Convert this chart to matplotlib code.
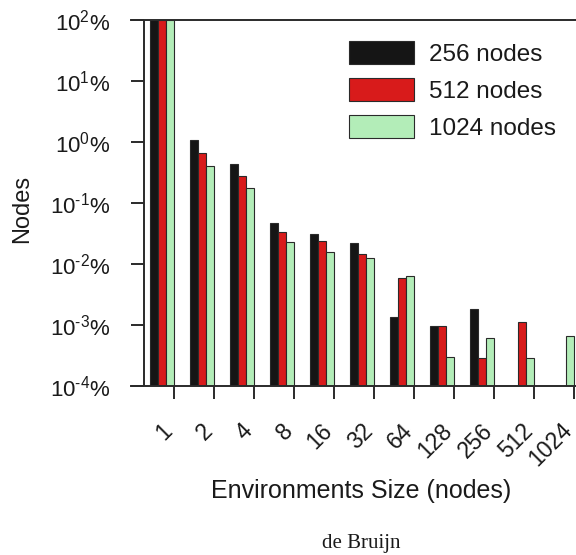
import numpy as np
import matplotlib
matplotlib.use("Agg")
import matplotlib.pyplot as plt
from matplotlib.transforms import ScaledTranslation

plt.rcParams['font.family'] = ['Liberation Sans', 'DejaVu Sans']
plt.rcParams['mathtext.fontset'] = 'custom'
plt.rcParams['mathtext.rm'] = 'Liberation Sans'
plt.rcParams['mathtext.it'] = 'Liberation Sans:italic'
plt.rcParams['mathtext.bf'] = 'Liberation Sans:bold'

categories = ["1", "2", "4", "8", "16", "32", "64", "128", "256", "512", "1024"]
series_names = ["256 nodes", "512 nodes", "1024 nodes"]
nodes_256 = [100, 1.08, 0.435, 0.0464, 0.0306, 0.0218, 0.00137, 0.000975, 0.00183, np.nan, np.nan]
nodes_512 = [100, 0.65, 0.277, 0.033, 0.0241, 0.0146, 0.00589, 0.000975, 0.000288, 0.00111, np.nan]
nodes_1024 = [100, 0.40, 0.174, 0.0232, 0.0155, 0.0127, 0.00628, 0.000295, 0.000612, 0.000284, 0.000652]
colors = ["#151515", "#D81B1B", "#B3EDB8"]
ytick_exps = [-4, -3, -2, -1, 0, 1, 2]

W, H = 576, 555
fig = plt.figure(figsize=(W / 100, H / 100), dpi=100)
ax = fig.add_axes([131 / W, 1 - 386 / H, (576 - 131) / W, (386 - 20) / H])

px2pt = 0.72
lc = "#2a2a2a"
lw = 1.4

x = np.arange(len(categories)) * 5.0
for j, (vals, col, name) in enumerate(zip([nodes_256, nodes_512, nodes_1024], colors, series_names)):
    ax.bar(x + j, vals, width=1.0, align='edge', color=col, edgecolor=lc,
           linewidth=0.8, label=name)

ax.set_yscale('log')
ax.set_ylim(1e-4, 1e2)
ax.set_xlim(-19 / 8, 426 / 8)

for s in ['left', 'right']:
    ax.spines[s].set_visible(False)
for s in ['top', 'bottom']:
    ax.spines[s].set_linewidth(lw)
    ax.spines[s].set_color(lc)
ax.axvline(-0.75, color=lc, linewidth=lw, zorder=3)


def ylab(e):
    if e < 0:
        return r'$\mathregular{10^{\text{-}%d}}$%%' % (-e)
    return r'$\mathregular{10^{%d}}$%%' % e


ax.set_yticks([10.0 ** e for e in ytick_exps])
ax.set_yticklabels([ylab(e) for e in ytick_exps])
ax.yaxis.set_minor_locator(matplotlib.ticker.NullLocator())
ax.tick_params(axis='y', direction='in', length=13 * px2pt, width=lw, color=lc,
               pad=21 * px2pt, labelsize=16, labelcolor='#1a1a1a')

ax.set_xticks(x + 3)
ax.set_xticklabels(categories, rotation=45, ha='right', va='center', rotation_mode='anchor')
ax.tick_params(axis='x', direction='out', length=13 * px2pt, width=lw, color=lc,
               pad=28 * px2pt, labelsize=16.5, labelcolor='#1a1a1a')
off = ScaledTranslation(-5 / 100, 0, fig.dpi_scale_trans)
for lab in ax.get_xticklabels():
    lab.set_transform(lab.get_transform() + off)

fig.text(361 / W, 1 - 498 / H, "Environments Size (nodes)", ha='center', va='baseline',
         fontsize=18, color='#1a1a1a')
fig.text(22 / W, 1 - 209 / H, "Nodes", ha='center', va='center', rotation=90,
         fontsize=17, color='#1a1a1a')
fig.text(361.5 / W, 1 - 547.7 / H, "de Bruijn", ha='center', va='baseline',
         fontsize=15, family='Liberation Serif', color='#1a1a1a')

leg = ax.legend(loc='upper left', bbox_to_anchor=(349 / W, 1 - 41 / H),
                bbox_transform=fig.transFigure, frameon=False, fontsize=17.5,
                handlelength=2.67, handleheight=1.1, handletextpad=0.62,
                labelspacing=0.5, borderpad=0, borderaxespad=0)
for t in leg.get_texts():
    t.set_color('#1a1a1a')

fig.savefig("out.png", dpi=100)
